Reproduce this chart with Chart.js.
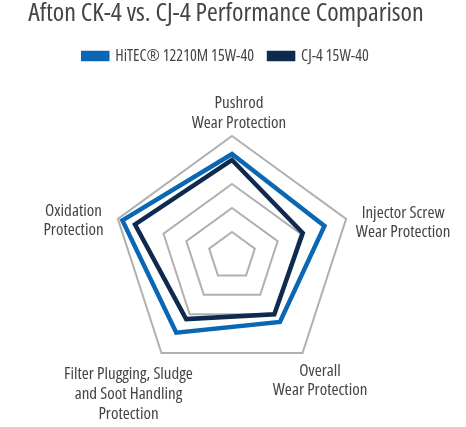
<!DOCTYPE html>
<html>
<head>
<meta charset="utf-8">
<script src="https://cdn.jsdelivr.net/npm/chart.js@4/dist/chart.umd.min.js"></script>
<style>
  html, body { margin: 0; padding: 0; background: #ffffff; }
  #wrap { position: relative; width: 466px; height: 427px; }
</style>
</head>
<body>
<div id="wrap"><canvas id="c"></canvas></div>
<script>
const chartTitle = 'Afton CK-4 vs. CJ-4 Performance Comparison';
const categories = [
  ['Pushrod', 'Wear Protection'],
  ['Injector Screw', 'Wear Protection'],
  ['Overall', 'Wear Protection'],
  ['Filter Plugging, Sludge', 'and Soot Handling', 'Protection'],
  ['Oxidation', 'Protection']
];
const seriesNames = ['HiTEC\u00AE 12210M 15W-40', 'CJ-4 15W-40'];
const hitecValues = [4.25, 4.05, 3.4, 3.95, 4.8];
const cj4Values = [4.0, 3.1, 3.0, 3.25, 4.25];
const scaleMin = 0;
const scaleMax = 5;
const tickStep = 1;
const hiddenRing = 4;

const FONT = "'Open Sans', 'DejaVu Sans Condensed', sans-serif";
const COND = '500 condensed';   // weight + font-stretch in the weight slot of the font string
const TEXT = '#444444';

// per-label placement offsets relative to the axis end point
const labelPlacement = [
  { dx: 7, dy: -33, lh: 20 },
  { dx: 57, dy: -6, lh: 19 },
  { dx: 17.5, dy: 18.5, lh: 18.5 },
  { dx: -33, dy: 20.6, lh: 20 },
  { dx: -44.4, dy: -8, lh: 19 }
];

const pointLabelPlugin = {
  id: 'pointLabelText',
  afterDraw(chart) {
    const scale = chart.scales.r;
    const ctx = chart.ctx;
    ctx.save();
    ctx.font = COND + ' 17px ' + FONT;
    ctx.fillStyle = TEXT;
    ctx.textAlign = 'center';
    ctx.textBaseline = 'middle';
    chart.data.labels.forEach((lines, i) => {
      const p = scale.getPointPosition(i, scale.drawingArea);
      const o = labelPlacement[i];
      lines.forEach((t, k) => {
        ctx.fillText(t, p.x + o.dx, p.y + o.dy + k * o.lh);
      });
    });
    ctx.restore();
  }
};

new Chart(document.getElementById('c'), {
  type: 'radar',
  data: {
    labels: categories,
    datasets: [
      {
        label: seriesNames[0],
        data: hitecValues,
        borderColor: '#0a67b3',
        backgroundColor: '#0a67b3',
        borderWidth: 4.5,
        borderJoinStyle: 'miter',
        fill: false,
        pointRadius: 0,
        pointHoverRadius: 0
      },
      {
        label: seriesNames[1],
        data: cj4Values,
        borderColor: '#0e2a4e',
        backgroundColor: '#0e2a4e',
        borderWidth: 4.5,
        borderJoinStyle: 'miter',
        fill: false,
        pointRadius: 0,
        pointHoverRadius: 0
      }
    ]
  },
  options: {
    responsive: true,
    maintainAspectRatio: false,
    animation: false,
    devicePixelRatio: 1,
    layout: { padding: { top: 0, left: 0, right: 14, bottom: 50.5 } },
    scales: {
      r: {
        min: scaleMin,
        max: scaleMax,
        ticks: { display: false, stepSize: tickStep },
        angleLines: { display: false },
        pointLabels: { display: false },
        grid: {
          circular: false,
          lineWidth: 2,
          color: (c) => (c.tick && c.tick.value === hiddenRing) ? 'rgba(0,0,0,0)' : '#b0b0b0'
        }
      },
      gutter: {
        type: 'linear',
        position: 'left',
        display: true,
        grid: { display: false, drawTicks: false },
        ticks: { display: false },
        border: { display: false },
        title: { display: true, text: '', padding: 0, font: { size: 12, lineHeight: 1 } }
      }
    },
    plugins: {
      title: {
        display: true,
        text: chartTitle,
        color: TEXT,
        font: { family: FONT, size: 26, weight: COND, lineHeight: 1.04 },
        padding: { top: 0, bottom: 6 }
      },
      subtitle: {
        display: true,
        text: '',
        weight: 500,
        font: { size: 10, lineHeight: 1 },
        padding: { top: 0, bottom: 51.5 }
      },
      legend: {
        display: true,
        position: 'top',
        labels: {
          boxWidth: 24,
          boxHeight: 6,
          padding: 15,
          color: TEXT,
          font: { family: FONT, size: 16, weight: COND }
        }
      },
      tooltip: { enabled: false }
    }
  },
  plugins: [pointLabelPlugin]
});
</script>
</body>
</html>
